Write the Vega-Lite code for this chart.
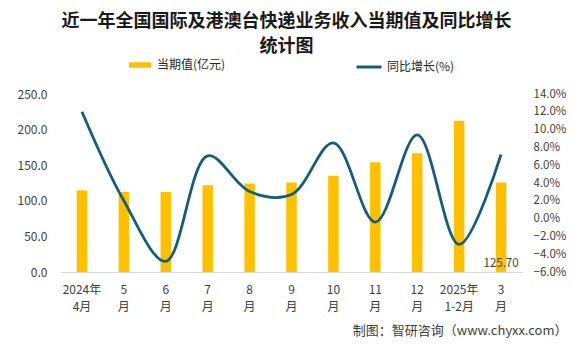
{
  "$schema": "https://vega.github.io/schema/vega-lite/v6.json",
  "width": 461,
  "height": 178,
  "autosize": "none",
  "padding": {"left": 61, "top": 94, "right": 51, "bottom": 72},
  "background": "white",
  "config": {"view": {"stroke": null}, "font": "Noto Sans CJK SC"},
  "title": {
    "text": ["近一年全国国际及港澳台快递业务收入当期值及同比增长", "统计图"],
    "fontSize": 18,
    "fontWeight": "bold",
    "color": "#1a1a1a",
    "lineHeight": 25,
    "anchor": "middle",
    "frame": "group",
    "dx": -5,
    "offset": -3
  },
  "data": {
    "values": [
      {"month": "2024年|4月", "value": 114.7, "yoy": 12.0},
      {"month": "5|月", "value": 112.4, "yoy": 2.0},
      {"month": "6|月", "value": 112.4, "yoy": -4.8},
      {"month": "7|月", "value": 121.9, "yoy": 7.05},
      {"month": "8|月", "value": 124.3, "yoy": 3.05},
      {"month": "9|月", "value": 125.7, "yoy": 2.7},
      {"month": "10|月", "value": 135.3, "yoy": 8.5},
      {"month": "11|月", "value": 154.3, "yoy": -0.4},
      {"month": "12|月", "value": 166.7, "yoy": 9.4},
      {"month": "2025年|1-2月", "value": 212.4, "yoy": -2.9},
      {"month": "3|月", "value": 125.7, "yoy": 7.2}
    ]
  },
  "encoding": {
    "x": {
      "field": "month",
      "type": "nominal",
      "sort": null,
      "scale": {"paddingInner": 0.75, "paddingOuter": 0.375},
      "axis": {
        "title": "制图：智研咨询（www.chyxx.com）",
        "titleFontSize": 13,
        "titleFontWeight": "normal",
        "titleColor": "#404040",
        "titleX": 506,
        "titleY": 58,
        "titleAlign": "right",
        "titleBaseline": "middle",
        "labelExpr": "split(datum.label, '|')",
        "labelAngle": 0,
        "labelFontSize": 12,
        "labelColor": "#404040",
        "labelLineHeight": 17,
        "labelPadding": 12,
        "ticks": false,
        "domainColor": "#d9d9d9",
        "grid": false
      }
    }
  },
  "layer": [
    {
      "layer": [
        {
          "mark": {"type": "bar", "color": "#FFC000"},
          "encoding": {
            "y": {
              "field": "value",
              "type": "quantitative",
              "scale": {"domain": [0, 250]},
              "axis": {
                "title": null,
                "values": [0, 50, 100, 150, 200, 250],
                "format": ".1f",
                "labelOverlap": false,
                "labelFontSize": 12,
                "labelColor": "#404040",
                "labelPadding": 14,
                "ticks": false,
                "domain": false,
                "grid": false
              }
            },
            "color": {
              "datum": "当期值(亿元)",
              "scale": {"range": ["#FFC000"]},
              "legend": {
                "orient": "none",
                "legendX": 67,
                "legendY": -41,
                "title": null,
                "padding": 0,
                "symbolType": "M-1,-0.25H1V0.25H-1Z",
                "symbolSize": 484,
                "labelFontSize": 12,
                "labelColor": "#262626",
                "labelOffset": 5
              }
            }
          }
        },
        {
          "transform": [{"filter": "datum.month == '3|月'"}],
          "mark": {"type": "text", "baseline": "bottom", "dy": -3, "fontSize": 11.5, "color": "#404040"},
          "encoding": {
            "y": {
              "datum": 0,
              "type": "quantitative",
              "scale": {"domain": [0, 250]},
              "axis": {
                "title": null,
                "values": [0, 50, 100, 150, 200, 250],
                "format": ".1f",
                "labelOverlap": false,
                "labelFontSize": 12,
                "labelColor": "#404040",
                "labelPadding": 14,
                "ticks": false,
                "domain": false,
                "grid": false
              }
            },
            "text": {"field": "value", "type": "quantitative", "format": ".2f"}
          }
        }
      ]
    },
    {
      "mark": {"type": "line", "interpolate": "catmull-rom", "strokeWidth": 2.8},
      "encoding": {
        "y": {
          "field": "yoy",
          "type": "quantitative",
          "scale": {"domain": [-6, 14]},
          "axis": {
            "orient": "right",
            "title": null,
            "values": [-6, -4, -2, 0, 2, 4, 6, 8, 10, 12, 14],
            "labelOverlap": false,
            "labelExpr": "format(datum.value, '.1f') + '%'",
            "labelFontSize": 11.5,
            "labelColor": "#404040",
            "labelPadding": 11,
            "ticks": false,
            "domain": false,
            "grid": false
          }
        },
        "stroke": {
          "datum": "同比增长(%)",
          "scale": {"range": ["#135e7c"]},
          "legend": {
            "orient": "none",
            "legendX": 294,
            "legendY": -41,
            "title": null,
            "padding": 0,
            "symbolType": "stroke",
            "symbolSize": 625,
            "symbolStrokeWidth": 3,
            "labelFontSize": 12,
            "labelColor": "#262626",
            "labelOffset": 4
          }
        }
      }
    }
  ],
  "resolve": {"scale": {"y": "independent", "color": "independent"}}
}
